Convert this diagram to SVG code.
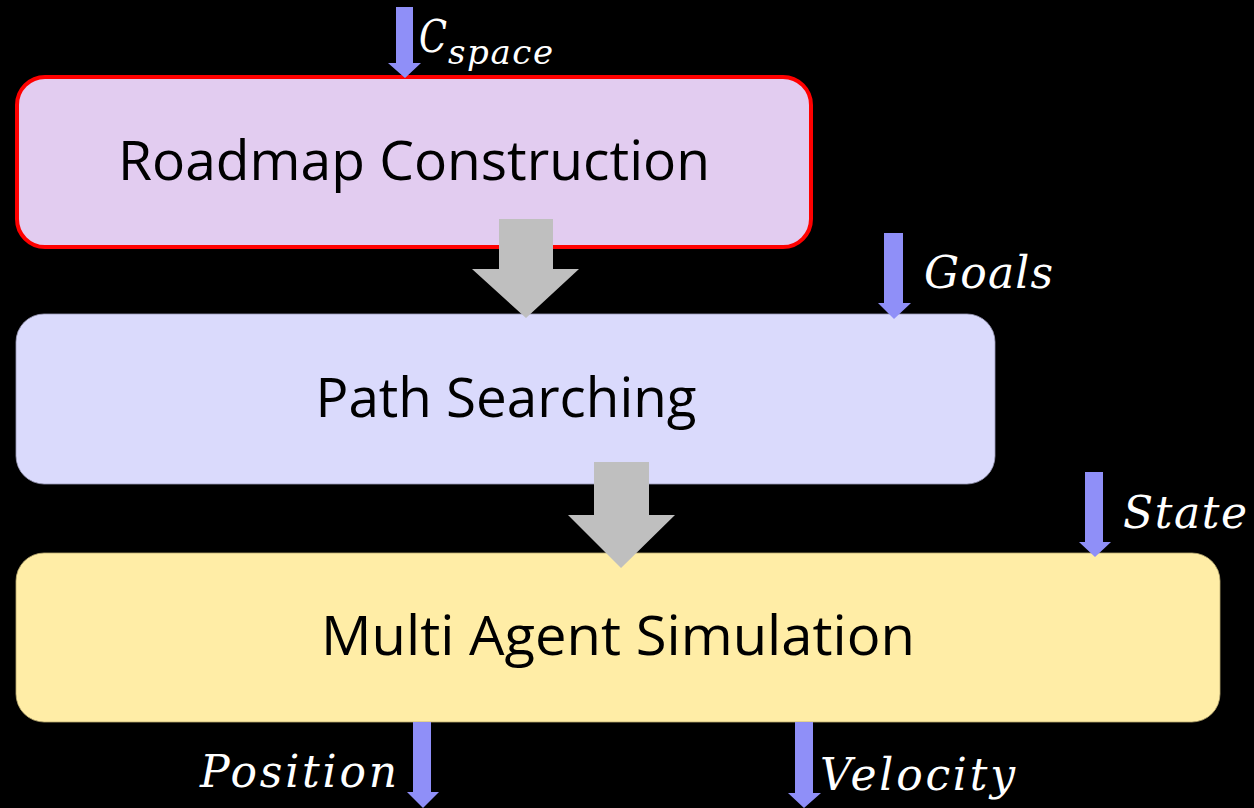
<svg xmlns="http://www.w3.org/2000/svg" width="1254" height="808" viewBox="0 0 1254 808">
  <defs>
    <style>
      .title { font-family: "Open Sans", "Liberation Sans", Arial, sans-serif; font-size: 54px; fill: #000000; }
      .var { font-family: "DejaVu Serif", "Liberation Serif", serif; font-style: italic; font-size: 44px; fill: #ffffff; }
      .sub { font-family: "DejaVu Serif", "Liberation Serif", serif; font-style: italic; font-size: 34px; fill: #ffffff; }
      .io { fill: #8f8ff8; }
      .flow { fill: #bfbfbf; }
    </style>
  </defs>
  <rect x="0" y="0" width="1254" height="808" fill="#000000"/>

  <!-- stage boxes -->
  <g id="roadmap">
    <rect x="17" y="77" width="794" height="170" rx="28" ry="28" fill="#e2ccf0" stroke="#ff0000" stroke-width="4"/>
    <text class="title" x="414" y="180" text-anchor="middle" textLength="592" lengthAdjust="spacingAndGlyphs">Roadmap Construction</text>
  </g>
  <g id="path-searching">
    <rect x="16" y="314" width="979" height="170" rx="28" ry="28" fill="#dadafc" stroke="#9a9ab8" stroke-width="0.8"/>
    <text class="title" x="506" y="417" text-anchor="middle" textLength="381" lengthAdjust="spacingAndGlyphs">Path Searching</text>
  </g>
  <g id="multi-agent">
    <rect x="16" y="553" width="1204" height="169" rx="28" ry="28" fill="#ffeda6" stroke="#b8a870" stroke-width="0.8"/>
    <text class="title" x="618" y="655" text-anchor="middle" textLength="594" lengthAdjust="spacingAndGlyphs">Multi Agent Simulation</text>
  </g>

  <!-- connectors: block arrows between stages, inputs and outputs -->
  <g id="connectors">
    <polygon class="flow" points="499,219 553,219 553,269 579,269 526,318 472,269 499,269"/>
    <polygon class="flow" points="594,462 649,462 649,515 675,515 621,568 568,515 594,515"/>

    <polygon class="io" points="396,7 413,7 413,63 421,63 405,78 388,63 396,63"/>
    <polygon class="io" points="884,233 903,233 903,303 911,303 894,319 878,303 884,303"/>
    <polygon class="io" points="1085,472 1103,472 1103,542 1111,542 1095,557 1079,542 1085,542"/>
    <polygon class="io" points="413,722 431,722 431,792 439,792 423,808 407,792 413,792"/>
    <polygon class="io" points="795,722 813,722 813,793 821,793 804,808 788,793 795,793"/>
  </g>

  <!-- variable labels -->
  <g id="labels">
    <text class="var" x="419" y="52" textLength="28" lengthAdjust="spacingAndGlyphs">C</text>
    <text class="sub" x="448" y="64" textLength="105" lengthAdjust="spacing">space</text>
    <text class="var" x="924" y="288" textLength="129" lengthAdjust="spacing">Goals</text>
    <text class="var" x="1123" y="528" textLength="124" lengthAdjust="spacing">State</text>
    <text class="var" x="200" y="787" textLength="197" lengthAdjust="spacing">Position</text>
    <text class="var" x="820" y="790" textLength="195" lengthAdjust="spacing">Velocity</text>
  </g>
</svg>
